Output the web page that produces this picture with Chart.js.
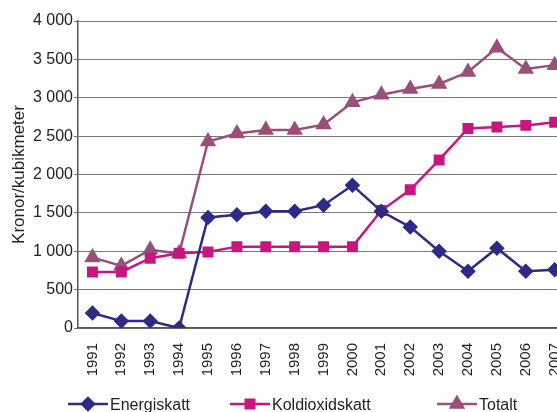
<!DOCTYPE html>
<html>
<head>
<meta charset="utf-8">
<script src="https://cdn.jsdelivr.net/npm/chart.js@4"></script>
<style>
  html, body { margin: 0; padding: 0; background: #fff; overflow: hidden; }
  #wrap { width: 557px; height: 412px; overflow: hidden; }
</style>
</head>
<body>
<div id="wrap"><canvas id="diagram" width="588" height="412"></canvas></div>
<script>
// Data
const years = ['1991','1992','1993','1994','1995','1996','1997','1998','1999','2000','2001','2002','2003','2004','2005','2006','2007'];
const energiskatt = [195, 90, 90, 0, 1440, 1475, 1520, 1520, 1600, 1860, 1520, 1315, 1000, 740, 1040, 740, 760];
const koldioxidskatt = [730, 730, 910, 975, 990, 1060, 1060, 1060, 1060, 1060, 1530, 1800, 2190, 2600, 2620, 2640, 2680];
const totalt = [920, 810, 1020, 970, 2430, 2535, 2580, 2580, 2650, 2940, 3040, 3115, 3180, 3335, 3650, 3375, 3425];
const yTicks = [0, 500, 1000, 1500, 2000, 2500, 3000, 3500, 4000];

const fontFamily = '"Liberation Sans", Arial, sans-serif';

// Tusental med mellanslag
const formatera = v => v >= 1000 ? Math.floor(v / 1000) + ' ' + String(v % 1000).padStart(3, '0') : String(v);

// Egen legend: linje + markör + text
const legendPlugin = {
  id: 'egenLegend',
  afterDraw(chart) {
    const ctx = chart.ctx;
    const startX = [68, 230, 437];
    const y = 404;
    chart.data.datasets.forEach((ds, i) => {
      const x = startX[i];
      ctx.save();
      ctx.strokeStyle = ds.borderColor;
      ctx.lineWidth = 2.5;
      ctx.beginPath();
      ctx.moveTo(x, y);
      ctx.lineTo(x + 40, y);
      ctx.stroke();
      Chart.helpers.drawPoint(ctx, {
        pointStyle: ds.pointStyle,
        radius: ds.pointRadius,
        rotation: ds.pointRotation || 0,
        borderWidth: 1
      }, x + 20, y);
      ctx.fillStyle = ds.borderColor;
      ctx.strokeStyle = ds.borderColor;
      ctx.fill();
      ctx.fillStyle = '#222';
      ctx.font = '16px ' + fontFamily;
      ctx.textBaseline = 'middle';
      ctx.fillText(ds.label, x + 42, y + 2);
      ctx.restore();
    });
  }
};

const ctx = document.getElementById('diagram');
new Chart(ctx, {
  type: 'line',
  data: {
    labels: years,
    datasets: [
      {
        label: 'Energiskatt',
        data: energiskatt,
        borderColor: '#2e2a86',
        backgroundColor: '#2e2a86',
        pointStyle: 'rectRot',
        pointRadius: 6,
        borderWidth: 2.5
      },
      {
        label: 'Koldioxidskatt',
        data: koldioxidskatt,
        borderColor: '#c8167f',
        backgroundColor: '#c8167f',
        pointStyle: 'rect',
        pointRadius: 6,
        borderWidth: 2.5
      },
      {
        label: 'Totalt',
        data: totalt,
        borderColor: '#9a4f78',
        backgroundColor: '#9a4f78',
        pointStyle: 'triangle',
        pointRadius: 7,
        borderWidth: 2.5
      }
    ]
  },
  options: {
    responsive: false,
    animation: false,
    layout: { padding: { top: 21, right: 11, bottom: 0, left: 0 } },
    plugins: {
      legend: { display: false },
      tooltip: { enabled: false }
    },
    scales: {
      x: {
        offset: true,
        grid: { display: false, drawTicks: false },
        border: { color: '#555', width: 1.5 },
        ticks: {
          color: '#222',
          font: { family: fontFamily, size: 15 },
          minRotation: 90,
          maxRotation: 90,
          padding: 15
        },
        afterFit(scale) { scale.height = 84; }
      },
      y: {
        min: 0,
        max: 4000,
        afterBuildTicks(scale) { scale.ticks = yTicks.map(v => ({ value: v })); },
        grid: { color: '#777', lineWidth: 1, drawTicks: true, tickLength: 4 },
        border: { color: '#555', width: 1.5 },
        ticks: {
          color: '#222',
          font: { family: fontFamily, size: 16 },
          padding: 1,
          callback: v => formatera(v)
        },
        title: {
          display: true,
          text: 'Kronor/kubikmeter',
          color: '#222',
          font: { family: fontFamily, size: 17 },
          padding: { top: 9, bottom: 4 }
        },
        afterFit(scale) { scale.width = 78; }
      }
    }
  },
  plugins: [legendPlugin]
});
</script>
</body>
</html>
